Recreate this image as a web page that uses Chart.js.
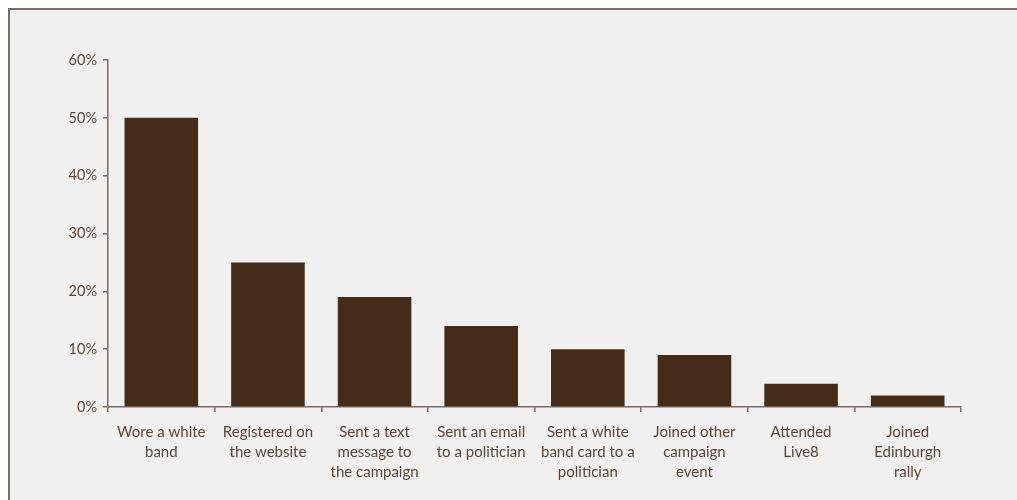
<!DOCTYPE html>
<html>
<head>
<meta charset="utf-8">
<script src="https://cdn.jsdelivr.net/npm/chart.js@4"></script>
<style>
    body { margin: 0; background: #ffffff; }
    #frameDivId {
        position: absolute;
        left: 8px;
        top: 8px;
        width: 1009px;
        height: 492px;
        background: #f0f0f0;
        border-left: 2px solid #77706a;
        border-top: 2px solid #77706a;
        box-sizing: border-box;
    }
    #chartDivId { position: absolute; left: 0; top: 0; width: 1007px; height: 490px; }
</style>
</head>
<body>
<div id="frameDivId"><div id="chartDivId"><canvas id="chartCanvasId"></canvas></div></div>
<script>
let categories = [
    ['Wore a white', 'band'],
    ['Registered on', 'the website'],
    ['Sent a text', 'message to', 'the campaign'],
    ['Sent an email', 'to a politician'],
    ['Sent a white', 'band card to a', 'politician'],
    ['Joined other', 'campaign', 'event'],
    ['Attended', 'Live8'],
    ['Joined', 'Edinburgh', 'rally']
];
let percentValues = [50, 25, 19, 14, 10, 9, 4, 2];
let yTickMax = 60;
let yTickStep = 10;

let barColour = '#452c19';
let axisColour = '#7b6b60';
let textColour = '#5b4636';

window.addEventListener("DOMContentLoaded", init);

function init() {
    let chartCanvas = document.getElementById("chartCanvasId");

    new Chart(chartCanvas, {
        type: 'bar',
        data: {
            labels: categories,
            datasets: [{
                data: percentValues,
                backgroundColor: barColour,
                borderWidth: 0,
                categoryPercentage: 1,
                barPercentage: 0.69
            }]
        },
        options: {
            responsive: true,
            maintainAspectRatio: false,
            animation: false,
            layout: { padding: { left: 0, right: 56, top: 50, bottom: 0 } },
            plugins: { legend: { display: false }, tooltip: { enabled: false } },
            scales: {
                x: {
                    grid: {
                        offset: true,
                        drawOnChartArea: false,
                        drawTicks: true,
                        tickLength: 5,
                        color: axisColour,
                        lineWidth: 1.5
                    },
                    border: { color: axisColour, width: 1.5 },
                    ticks: {
                        color: textColour,
                        padding: 10,
                        maxRotation: 0,
                        autoSkip: false,
                        font: { family: 'Lato', size: 15, lineHeight: 1.33 }
                    },
                    afterFit: function (scale) { scale.height = 93; }
                },
                y: {
                    min: 0,
                    max: yTickMax,
                    grid: {
                        drawOnChartArea: false,
                        drawTicks: true,
                        tickLength: 5,
                        color: axisColour,
                        lineWidth: 1.5
                    },
                    border: { color: axisColour, width: 1.5 },
                    ticks: {
                        stepSize: yTickStep,
                        color: textColour,
                        padding: 6,
                        font: { family: 'Lato', size: 14.5 },
                        callback: function (v) { return v + '%'; }
                    },
                    afterFit: function (scale) { scale.width = 98; }
                }
            }
        }
    });
}
</script>
</body>
</html>
